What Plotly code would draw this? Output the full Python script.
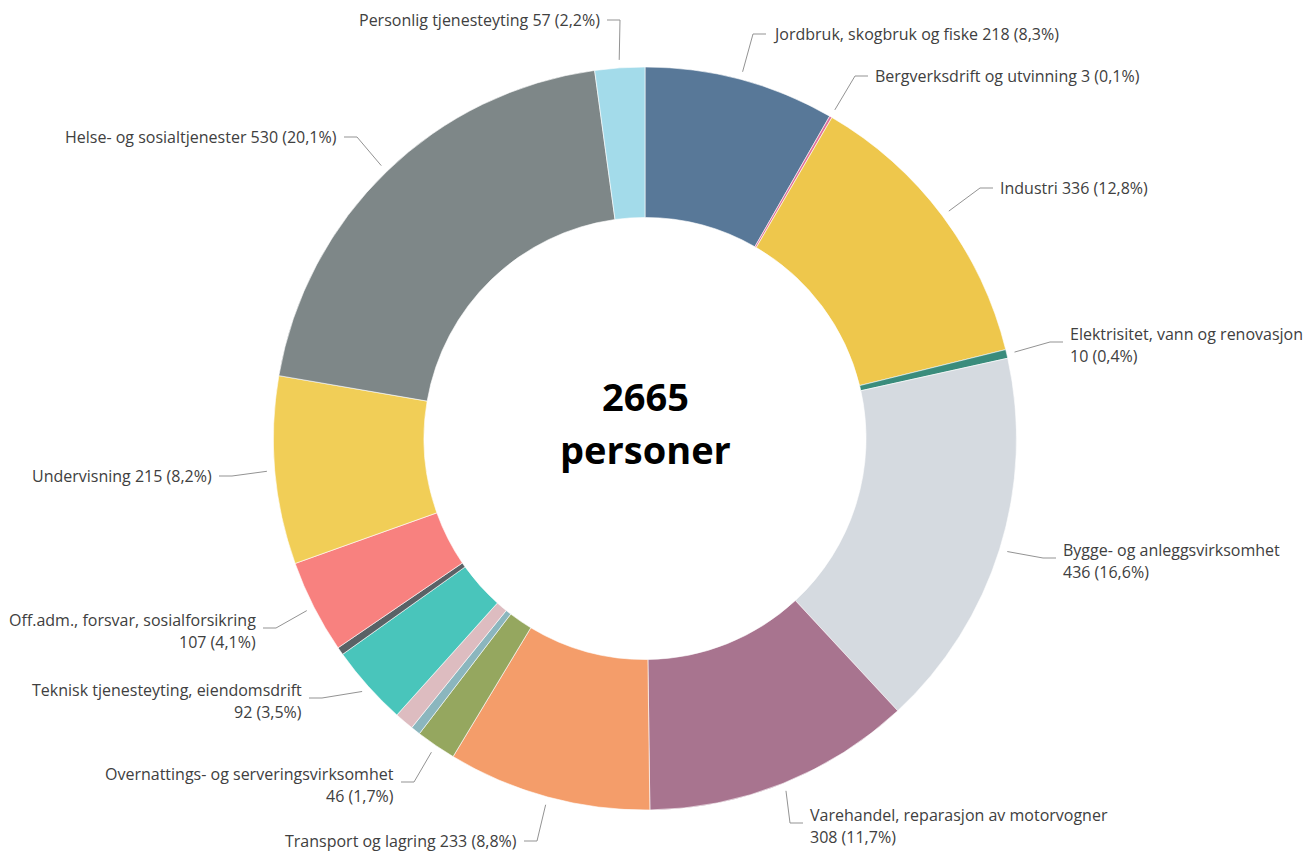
import math
import plotly.graph_objects as go

# Employed persons by industry (SN2007 main groups)
categories = [
    "Jordbruk, skogbruk og fiske",
    "Bergverksdrift og utvinning",
    "Industri",
    "Elektrisitet, vann og renovasjon",
    "Bygge- og anleggsvirksomhet",
    "Varehandel, reparasjon av motorvogner",
    "Transport og lagring",
    "Overnattings- og serveringsvirksomhet",
    "Informasjon og kommunikasjon",
    "Finansiering og forsikring",
    "Teknisk tjenesteyting, eiendomsdrift",
    "Forretningsmessig tjenesteyting",
    "Off.adm., forsvar, sosialforsikring",
    "Undervisning",
    "Helse- og sosialtjenester",
    "Personlig tjenesteyting",
]
persons = [218, 3, 336, 10, 436, 308, 233, 46, 11, 22, 92, 9, 107, 215, 530, 57]
slice_colors = [
    "#587898", "#E0709A", "#EEC74C", "#3A8C7C", "#D5DAE0", "#A8748F",
    "#F49D6A", "#95A75F", "#8BB6BE", "#DDBCC0", "#49C5BB", "#5A6266",
    "#F8817F", "#F1CE57", "#7E8788", "#A3DBEA",
]
total_persons = 2665
center_unit = "personer"

# ---- page geometry (pixels) ----
W, H = 1310, 854
CX, CY, R = 645, 438.5, 371.5
HOLE = 0.595

# Label placement: side, elbow point of the connector, number of text lines
label_layout = {
    "Jordbruk, skogbruk og fiske":           ("right", 753, 34, 1),
    "Bergverksdrift og utvinning":           ("right", 855, 76, 1),
    "Industri":                              ("right", 980, 188, 1),
    "Elektrisitet, vann og renovasjon":      ("right", 1050, 342, 2),
    "Bygge- og anleggsvirksomhet":           ("right", 1043, 558, 2),
    "Varehandel, reparasjon av motorvogner": ("right", 790, 823, 2),
    "Transport og lagring":                  ("left", 537, 841, 1),
    "Overnattings- og serveringsvirksomhet": ("left", 414, 782, 2),
    "Teknisk tjenesteyting, eiendomsdrift":  ("left", 322, 698, 2),
    "Off.adm., forsvar, sosialforsikring":   ("left", 276, 628, 2),
    "Undervisning":                          ("left", 232, 476, 1),
    "Helse- og sosialtjenester":             ("left", 357, 137, 1),
    "Personlig tjenesteyting":               ("left", 620, 20, 1),
}

LABEL_FONT = dict(family="Open Sans, sans-serif", size=16, color="#404040")
CENTER_FONT = dict(family="Open Sans, sans-serif", size=38, color="#000000")
CONNECTOR_COLOR = "#939393"

total_shown = sum(persons)


def pct_text(v):
    return f"{100 * v / total_shown:.1f}".replace(".", ",") + "%"


fig = go.Figure()

fig.add_trace(go.Pie(
    labels=categories,
    values=persons,
    marker=dict(colors=slice_colors, line=dict(color="white", width=0.6)),
    sort=False,
    direction="clockwise",
    rotation=0,
    hole=HOLE,
    textinfo="none",
    hovertemplate="%{label}: %{value}<extra></extra>",
    showlegend=False,
    domain=dict(x=[(CX - R) / W, (CX + R) / W],
                y=[(H - CY - R) / H, (H - CY + R) / H]),
))

# Connectors and labels derived from each slice's mid angle
line_x, line_y = [], []
annotations = []
cum = 0
for name, v in zip(categories, persons):
    mid = (cum + v / 2) / total_shown * 2 * math.pi
    cum += v
    if name not in label_layout:
        continue
    side, ex, ey, nlines = label_layout[name]
    sx = CX + (R + 8) * math.sin(mid)
    sy = CY - (R + 8) * math.cos(mid)
    sign = 1 if side == "right" else -1
    hx = ex + sign * 13
    line_x += [sx, ex, hx, None]
    line_y += [sy, ey, ey, None]
    tx = ex + sign * 18
    value_str = f"{v} ({pct_text(v)})"
    if nlines == 1:
        rows = [(f"{name} {value_str}", ey)]
    else:
        rows = [(name, ey - 8), (value_str, ey + 14)]
    for txt, ty in rows:
        annotations.append(dict(
            x=tx, y=ty, xref="x", yref="y", text=txt, showarrow=False,
            xanchor="left" if side == "right" else "right", yanchor="middle",
            font=LABEL_FONT,
        ))

fig.add_trace(go.Scatter(
    x=line_x, y=line_y, mode="lines",
    line=dict(color=CONNECTOR_COLOR, width=1),
    hoverinfo="skip", showlegend=False,
))

# Total in the middle of the ring
annotations.append(dict(
    x=CX, y=CY - 43, xref="x", yref="y", text=f"<b>{total_persons}</b>",
    showarrow=False, xanchor="center", yanchor="middle", font=CENTER_FONT,
))
annotations.append(dict(
    x=CX, y=CY + 10, xref="x", yref="y", text=f"<b>{center_unit}</b>",
    showarrow=False, xanchor="center", yanchor="middle", font=CENTER_FONT,
))

fig.update_layout(
    width=W, height=H,
    margin=dict(l=0, r=0, t=0, b=0),
    paper_bgcolor="white", plot_bgcolor="rgba(0,0,0,0)",
    xaxis=dict(range=[0, W], visible=False, domain=[0, 1], fixedrange=True),
    yaxis=dict(range=[H, 0], visible=False, domain=[0, 1], fixedrange=True),
    annotations=annotations,
)

fig.write_html("out.html")
